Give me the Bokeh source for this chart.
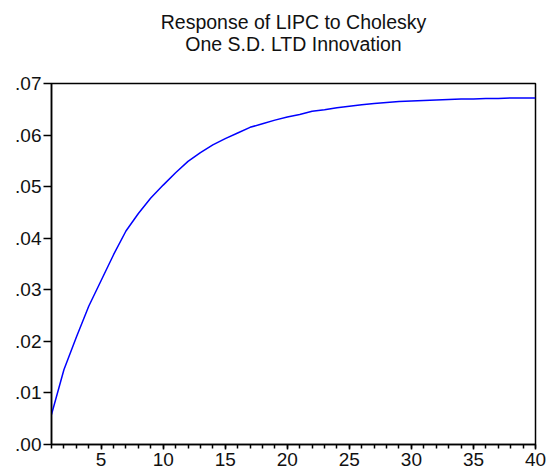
from bokeh.plotting import figure
from bokeh.models import (Range1d, SingleIntervalTicker, FixedTicker,
                          CustomJSTickFormatter, Title, ColumnDataSource)
from bokeh.embed import file_html
from bokeh.resources import INLINE

# ---- data ----
title_line1 = "Response of LIPC to Cholesky"
title_line2 = "One S.D. LTD Innovation"

periods = list(range(1, 41))
response = [0.0058, 0.0145, 0.0208, 0.0268, 0.0318, 0.0368, 0.0414, 0.0448,
            0.0478, 0.0503, 0.0527, 0.0549, 0.0566, 0.0581, 0.0593, 0.0604,
            0.0615, 0.0622, 0.0629, 0.0635, 0.0640, 0.0646, 0.0649, 0.0653,
            0.0656, 0.0659, 0.0661, 0.0663, 0.0665, 0.0666, 0.0667, 0.0668,
            0.0669, 0.0670, 0.0670, 0.0671, 0.0671, 0.0672, 0.0672, 0.0672]

y_tick_values = [0.0, 0.01, 0.02, 0.03, 0.04, 0.05, 0.06, 0.07]
y_tick_labels = [".00", ".01", ".02", ".03", ".04", ".05", ".06", ".07"]

FONT = "Liberation Sans"
TITLE_SIZE = "19.5px"

p = figure(width=546, height=474, output_backend="svg", toolbar_location=None,
           x_range=Range1d(1, 40), y_range=Range1d(0, 0.07),
           min_border_left=51, min_border_right=11, min_border_top=83,
           min_border_bottom=30)

src = ColumnDataSource(dict(x=periods, y=response))
p.line("x", "y", source=src, line_color="#0000ff", line_width=1.5)

# spacer between frame and title lines (panels stack outward from the frame)
p.add_layout(Title(text="\u00a0", align="center", text_font=FONT,
                   text_font_size=TITLE_SIZE, standoff=6), "above")
p.add_layout(Title(text=title_line2, align="center", text_font=FONT,
                   text_font_size=TITLE_SIZE, text_font_style="normal",
                   text_color="#111111", standoff=-2), "above")
p.add_layout(Title(text=title_line1, align="center", text_font=FONT,
                   text_font_size=TITLE_SIZE, text_font_style="normal",
                   text_color="#111111", standoff=-2), "above")

p.xgrid.visible = False
p.ygrid.visible = False
p.outline_line_color = "black"
p.outline_line_width = 1.5
p.outline_line_alpha = 1.0
p.background_fill_color = "white"
p.border_fill_color = "white"

xa = p.xaxis[0]
xa.ticker = SingleIntervalTicker(interval=5, num_minor_ticks=5)
xa.axis_line_width = 1.5
xa.axis_line_color = "black"
xa.major_tick_in = 0
xa.major_tick_out = 5
xa.minor_tick_in = 0
xa.minor_tick_out = 4
xa.major_tick_line_color = "black"
xa.minor_tick_line_color = "black"
xa.major_tick_line_width = 1.5
xa.minor_tick_line_width = 1.5
xa.major_label_text_font = FONT
xa.major_label_text_font_size = "19px"
xa.major_label_text_color = "#111111"
xa.major_label_standoff = 3

ya = p.yaxis[0]
ya.ticker = FixedTicker(ticks=y_tick_values)
ya.formatter = CustomJSTickFormatter(
    args=dict(vals=y_tick_values, labs=y_tick_labels),
    code="""
    for (let i = 0; i < vals.length; i++) {
        if (Math.abs(vals[i] - tick) < 1e-9) { return labs[i]; }
    }
    return '';
    """)
ya.axis_line_width = 1.5
ya.axis_line_color = "black"
ya.major_tick_in = 0
ya.major_tick_out = 8
ya.minor_tick_line_color = None
ya.major_tick_line_color = "black"
ya.major_tick_line_width = 1.5
ya.major_label_text_font = FONT
ya.major_label_text_font_size = "19px"
ya.major_label_text_color = "#111111"
ya.major_label_standoff = 2

open("out.html", "w").write(file_html(p, INLINE))
